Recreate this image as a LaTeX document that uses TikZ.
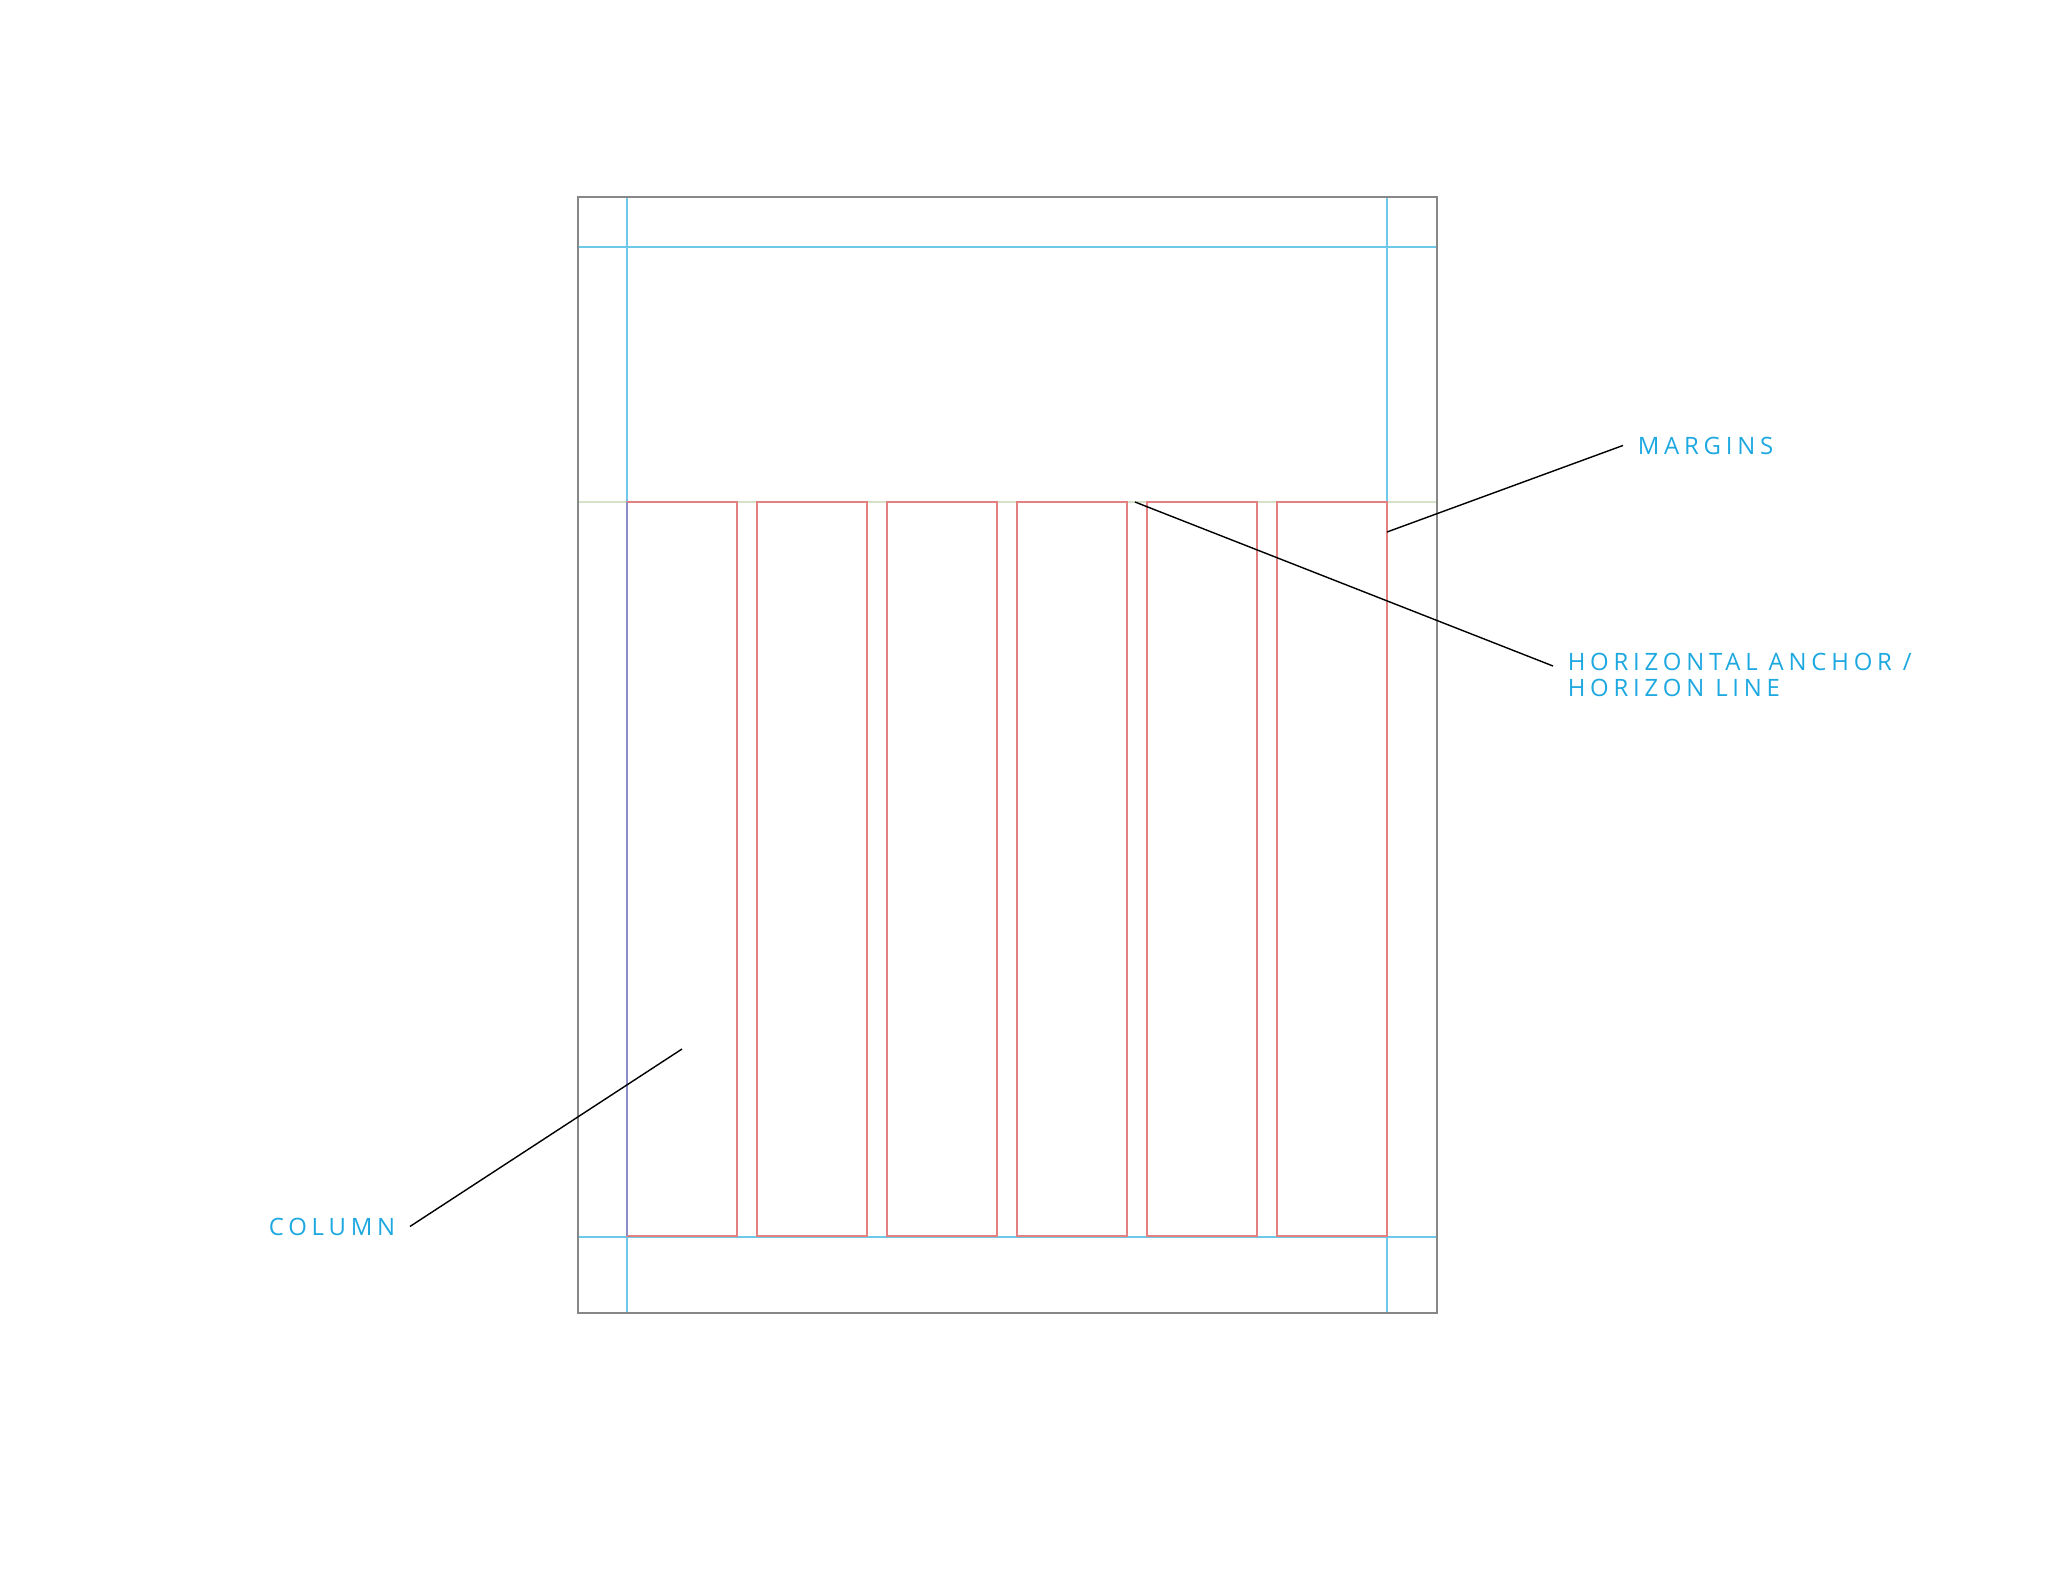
\documentclass[tikz,border=0pt]{standalone}
\usepackage{fontspec}
\newfontfamily\labelfont[LetterSpace=20]{Open Sans}
\usetikzlibrary{calc}

\definecolor{labelblue}{RGB}{29,168,224}
\definecolor{marginblue}{RGB}{110,200,232}
\definecolor{columnred}{RGB}{228,128,128}
\definecolor{columnedge}{RGB}{140,140,200}
\definecolor{horizongreen}{RGB}{214,226,200}
\definecolor{pagegray}{RGB}{135,135,135}

\tikzset{
  gridlabel/.style={text=labelblue, font=\labelfont\fontsize{6.8pt}{7.4pt}\selectfont,
    inner xsep=4pt, inner ysep=0pt, align=left},
  leader/.style={draw=black, line width=0.4pt}
}

\begin{document}
\begin{tikzpicture}[x=0.01cm, y=-0.01cm]
    \useasboundingbox (0,0) rectangle (2048,1582);
    % horizon line
    \draw[horizongreen, line width=0.45pt] (578,502) -- (1437,502);
    % margins
    \draw[marginblue, line width=0.4pt] (627,197) -- (627,1313);
    \draw[marginblue, line width=0.4pt] (1387,197) -- (1387,1313);
    \draw[marginblue, line width=0.4pt] (578,247) -- (1437,247);
    \draw[marginblue, line width=0.4pt] (578,1237) -- (1437,1237);
    % columns
    \foreach \i in {0,...,5}
      \draw[columnred, line width=0.4pt] ({627+130*\i},502) rectangle ({737+130*\i},1236);
    \draw[columnedge, line width=0.4pt] (627,502) -- (627,1236);
    \draw[pagegray, line width=0.55pt] (578,197) rectangle (1437,1313);

    \coordinate (marginpt) at (1387,532);
    \coordinate (horizonpt) at (1135,502);
    \coordinate (columnpt) at (682,1049);

    \node[gridlabel, anchor=base west] (margins) at (1623,454) {MARGINS};
    \node[gridlabel, anchor=north west] (horizon) at (1553,652) {HORIZONTAL ANCHOR /\\HORIZON LINE};
    \node[gridlabel, anchor=base east] (column) at (410,1235) {COLUMN};

    \draw[leader] (marginpt) -- (margins.west);
    \draw[leader] (horizonpt) -- ([yshift=-0.14cm]horizon.north west);
    \draw[leader] (columnpt) -- (column.east);
  \end{tikzpicture}
\end{document}
